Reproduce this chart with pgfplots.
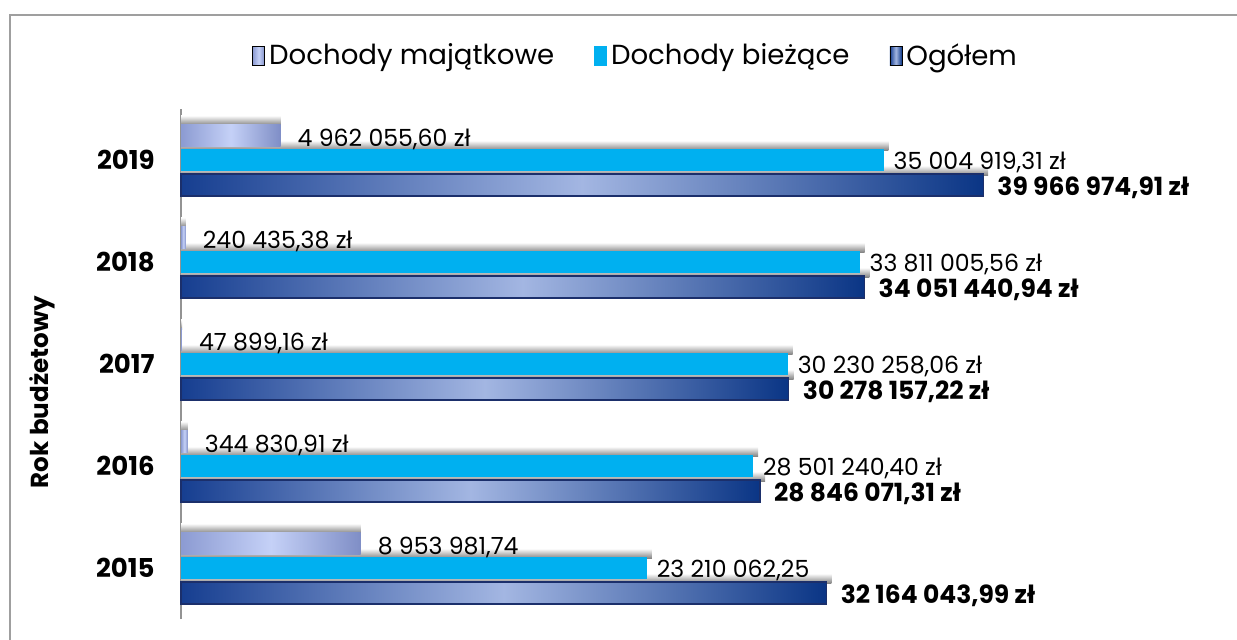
\documentclass[border=0pt]{standalone}
\usepackage{fontspec}
\setmainfont{Poppins}
\usepackage{pgfplots}
\pgfplotsset{compat=1.18}
\definecolor{majL}{HTML}{8C9BD2}
\definecolor{majM}{HTML}{C5D1F7}
\definecolor{majR}{HTML}{7F8EC6}
\definecolor{biez}{HTML}{00B0F0}
\definecolor{ogL}{HTML}{163E90}
\definecolor{ogM}{HTML}{A3B6E2}
\definecolor{ogR}{HTML}{0A3585}
\definecolor{ogD}{HTML}{1B2F6B}
\pgfplotsset{
  sh/.style={xbar, forget plot, draw=none, bar width=0.098, top color=white, bottom color=black!50},
  shM/.style={sh, bar shift=0.387},
  shB/.style={sh, bar shift=0.142},
  shO/.style={sh, bar shift=-0.103},
  lab/.style={nodes near coords, point meta=explicit symbolic, nodes near coords align={horizontal}},
  maj/.style={xbar, forget plot, draw=none, bar shift=0.245, bar width=0.2157,
    left color=majL, right color=majR, middle color=majM, lab,
    every node near coord/.append style={anchor=west, xshift=5pt, yshift=10.5pt, text=black, font=\fontsize{11.8}{13}\selectfont}},
  bie/.style={xbar, forget plot, draw=none, fill=biez, bar shift=0, bar width=0.2157, lab,
    every node near coord/.append style={anchor=west, xshift=1.5pt, yshift=-1pt, text=black, font=\fontsize{11.8}{13}\selectfont}},
  ogo/.style={xbar, forget plot, draw=ogD, line width=0.6pt, bar shift=-0.245, bar width=0.2157,
    left color=ogL, right color=ogR, middle color=ogM, lab,
    every node near coord/.append style={anchor=west, xshift=3.5pt, yshift=-14pt, text=black, font=\bfseries\fontsize{12.5}{14}\selectfont}},
}
\begin{document}
\begin{tikzpicture}
\useasboundingbox (0,0) rectangle (618.5pt,319.5pt);
\begin{axis}[
    at={(90.5pt,10pt)}, anchor=south west,
    scale only axis,
    width=501.75pt, height=255pt,
    xmin=0, xmax=50,
    ymin=-0.5, ymax=4.5,
    axis x line=none,
    axis y line*=left,
    y axis line style={draw=gray!85, line width=1pt, -},
    ytick={0,1,2,3,4},
    yticklabels={2015,2016,2017,2018,2019},
    major tick length=0pt,
    yticklabel style={anchor=east, inner sep=0pt, xshift=-13pt, font=\bfseries\fontsize{13}{15}\selectfont},
    ylabel={Rok budżetowy},
    every axis y label/.style={at={(rel axis cs:-0.1385,0.445)}, rotate=90, anchor=center, font=\bfseries\fontsize{12.3}{14}\selectfont},
    legend style={at={(rel axis cs:0.454,1.104)}, anchor=center, draw=none, fill=none,
      legend columns=-1, font=\fontsize{13.8}{16}\selectfont,
      /tikz/every even column/.append style={column sep=18pt}},
    clip=false,
]
% shadows
\addplot[shM] coordinates {(4.96,4)};
\addplot[shM] coordinates {(0.24,3)};
\addplot[shM] coordinates {(0.05,2)};
\addplot[shM] coordinates {(0.34,1)};
\addplot[shM] coordinates {(8.95,0)};
\addplot[shB] coordinates {(35.25,4)};
\addplot[shB] coordinates {(34.06,3)};
\addplot[shB] coordinates {(30.48,2)};
\addplot[shB] coordinates {(28.75,1)};
\addplot[shB] coordinates {(23.46,0)};
\addplot[shO] coordinates {(40.22,4)};
\addplot[shO] coordinates {(34.30,3)};
\addplot[shO] coordinates {(30.53,2)};
\addplot[shO] coordinates {(29.10,1)};
\addplot[shO] coordinates {(32.41,0)};
% Dochody majątkowe
\addplot[maj] coordinates {(4.96205560,4) [4 962 055,60 zł]};
\addplot[maj] coordinates {(0.24043538,3) [240 435,38 zł]};
\addplot[maj] coordinates {(0.04789916,2) [47 899,16 zł]};
\addplot[maj] coordinates {(0.34483091,1) [344 830,91 zł]};
\addplot[maj] coordinates {(8.95398174,0) [8 953 981,74]};
% Dochody bieżące
\addplot[bie] coordinates {(35.00491931,4) [35 004 919,31 zł]};
\addplot[bie] coordinates {(33.81100556,3) [33 811 005,56 zł]};
\addplot[bie] coordinates {(30.23025806,2) [30 230 258,06 zł]};
\addplot[bie] coordinates {(28.50124040,1) [28 501 240,40 zł]};
\addplot[bie] coordinates {(23.21006225,0) [23 210 062,25]};
% Ogółem
\addplot[ogo] coordinates {(39.96697491,4) [39 966 974,91 zł]};
\addplot[ogo] coordinates {(34.05144094,3) [34 051 440,94 zł]};
\addplot[ogo] coordinates {(30.27815722,2) [30 278 157,22 zł]};
\addplot[ogo] coordinates {(28.84607131,1) [28 846 071,31 zł]};
\addplot[ogo] coordinates {(32.16404399,0) [32 164 043,99 zł]};
% legend
\addlegendimage{legend image code/.code={\fill[left color=majL, right color=majR, middle color=majM] (0pt,-4.75pt) rectangle (6pt,4.75pt);}}
\addlegendentry{Dochody majątkowe}
\addlegendimage{legend image code/.code={\fill[biez] (0pt,-4.75pt) rectangle (6pt,4.75pt);}}
\addlegendentry{Dochody bieżące}
\addlegendimage{legend image code/.code={\fill[left color=ogL, right color=ogR, middle color=ogM] (0pt,-4.75pt) rectangle (6pt,4.75pt);}}
\addlegendentry{Ogółem}
\end{axis}
\draw[gray!75, line width=1pt] (5pt,-20pt) rectangle (640pt,312pt);
\end{tikzpicture}
\end{document}
